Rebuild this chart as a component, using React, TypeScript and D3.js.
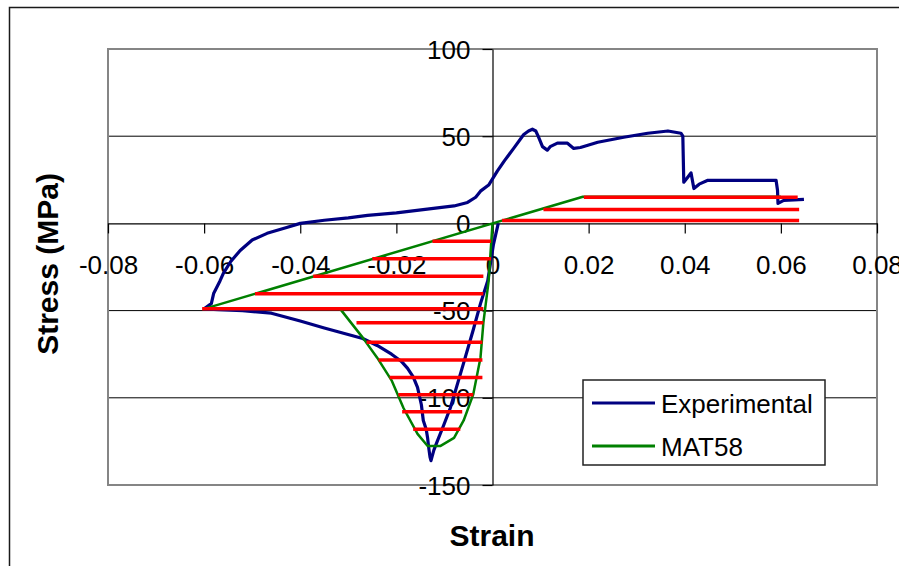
import React, { useEffect, useRef } from "react";
import * as d3 from "d3";

// axis ticks
const strainTicks = [-0.08, -0.06, -0.04, -0.02, 0, 0.02, 0.04, 0.06, 0.08];
const stressTicks = [-150, -100, -50, 0, 50, 100];

// Experimental curve
const expStrain = [
  0.0012, 0.0002, -0.001, -0.0025, -0.004, -0.006, -0.0075, -0.0088, -0.0102, -0.0115,
  -0.0122, -0.0128, -0.013, -0.0133, -0.0135, -0.0138, -0.0144, -0.0148, -0.0156, -0.0165,
  -0.0177, -0.019, -0.021, -0.024, -0.027, -0.031, -0.035, -0.04, -0.046, -0.052,
  -0.057, -0.06, -0.0585, -0.058, -0.0567, -0.056, -0.0545, -0.0525, -0.05, -0.0469,
  -0.043, -0.04, -0.035, -0.03, -0.026, -0.02, -0.0123, -0.008, -0.0052, -0.0035,
  -0.0025, -0.0008, 0.001, 0.0025, 0.0044, 0.0065, 0.0075, 0.0083, 0.009, 0.0095,
  0.0104, 0.0114, 0.012, 0.0135, 0.0156, 0.0169, 0.0183, 0.0219, 0.0273, 0.0323,
  0.0365, 0.0392, 0.0396, 0.0398, 0.0405, 0.0413, 0.0419, 0.043, 0.0448, 0.059,
  0.0593, 0.0594, 0.0606, 0.0648,
];
const expStress = [
  0, -12, -33, -46, -61, -80, -94, -106, -116, -125,
  -130, -136, -134, -128, -123, -118, -113, -104, -94, -88,
  -83, -79, -75, -70, -66, -63, -60, -56, -51.5, -50,
  -49.5, -49, -46, -40, -33, -28.7, -22, -15.5, -9.5, -5.7,
  -2.5, 0, 1.8, 3.2, 4.6, 6, 8.6, 10, 12, 15,
  18.5, 22, 30, 36, 43, 51, 53, 54, 53, 50,
  44, 42, 44, 46, 46, 43, 43.5, 46.5, 49.4, 51.7,
  53, 51.7, 50, 23.6, 26, 29, 20, 22.5, 24.7, 24.7,
  19, 11.5, 13.2, 13.8,
];

// MAT58 curve
const matStrain = [
  0.06, 0.0188, -0.06, -0.0317, -0.027, -0.024, -0.021, -0.0185, -0.0156, -0.0135,
  -0.0108, -0.008, -0.006, -0.004, -0.0025, -0.0019, -0.0008, 0,
];
const matStress = [
  15.3, 15.3, -49, -49, -65.5, -77, -90, -106, -120.7, -127.6,
  -127.6, -123, -113, -98, -77, -57, -33, 0,
];

// red hatch lines: level, start strain, end strain
const hatchStress = [15, 8, 1.7, -10.2, -20.3, -30.3, -40.4, -49, -57, -68.2, -78.3, -88.3, -98.3, -108, -118];
const hatchFrom = [0.019, 0.0106, 0.002, -0.0125, -0.025, -0.0373, -0.0494, -0.0604, -0.0283, -0.0262, -0.0237, -0.0214, -0.0196, -0.0188, -0.0165];
const hatchTo = [0.0635, 0.0638, 0.0638, -0.0003, -0.0003, -0.0019, -0.0019, -0.0019, -0.0019, -0.0021, -0.0021, -0.0021, -0.004, -0.0063, -0.0067];

const seriesNames = ["Experimental", "MAT58"];
const seriesColors = ["#000080", "#008000"];

export default function App() {
  const ref = useRef<SVGSVGElement>(null);

  useEffect(() => {
    const svg = d3.select(ref.current);
    svg.selectAll("*").remove();
    const W = 899, H = 566;
    const left = 108, right = 877, top = 49, bottom = 485;
    const font = "'Liberation Sans', Arial, sans-serif";

    const x = d3.scaleLinear().domain([-0.08, 0.08]).range([left, right]);
    const y = d3.scaleLinear().domain([-150, 100]).range([bottom, top]);

    svg.append("rect").attr("width", W).attr("height", H).attr("fill", "#fff");

    // outer chart frame (only top and left edges visible)
    svg.append("path")
      .attr("d", `M9.5,${H} V7.5 H${W}`)
      .attr("fill", "none").attr("stroke", "#1a1a1a").attr("stroke-width", 1.5);

    // gridlines
    svg.append("g")
      .selectAll("line")
      .data(stressTicks.filter(d => d !== 0 && d !== -150 && d !== 100))
      .enter().append("line")
      .attr("x1", left).attr("x2", right)
      .attr("y1", d => y(d)).attr("y2", d => y(d))
      .attr("stroke", "#000").attr("stroke-width", 1);

    // plot border
    svg.append("rect")
      .attr("x", left).attr("y", top)
      .attr("width", right - left).attr("height", bottom - top)
      .attr("fill", "none").attr("stroke", "#858585").attr("stroke-width", 2);

    // x axis through y = 0
    const gx = svg.append("g")
      .attr("transform", `translate(0,${y(0)})`)
      .call(d3.axisBottom(x).tickValues(strainTicks).tickSize(10).tickSizeOuter(0)
        .tickFormat(d => String(+(+d).toFixed(2))));
    gx.select(".domain").attr("stroke", "#000").attr("stroke-width", 1.2);
    gx.selectAll(".tick line").attr("stroke", "#000").attr("stroke-width", 1.2);
    gx.selectAll(".tick text")
      .attr("y", 32).attr("dy", "0.71em")
      .attr("fill", "#000")
      .style("font-family", font).style("font-size", "26px");

    // y axis through x = 0
    const gy = svg.append("g")
      .attr("transform", `translate(${x(0)},0)`)
      .call(d3.axisLeft(y).tickValues(stressTicks).tickSize(10).tickSizeOuter(0)
        .tickFormat(d => String(d)));
    gy.select(".domain").attr("stroke", "#000").attr("stroke-width", 1.2);
    gy.selectAll(".tick line").attr("stroke", "#000").attr("stroke-width", 1.2);
    gy.selectAll(".tick text")
      .attr("x", -22).attr("dy", "0.35em")
      .attr("fill", "#000")
      .style("font-family", font).style("font-size", "26px");

    const line = d3.line<[number, number]>().x(d => x(d[0])).y(d => y(d[1]));

    const expData = expStrain.map((s, i) => [s, expStress[i]] as [number, number]);
    const matData = matStrain.map((s, i) => [s, matStress[i]] as [number, number]);

    svg.append("path")
      .attr("d", line(expData))
      .attr("fill", "none").attr("stroke", seriesColors[0])
      .attr("stroke-width", 3.2).attr("stroke-linejoin", "round");

    svg.append("path")
      .attr("d", line(matData))
      .attr("fill", "none").attr("stroke", seriesColors[1])
      .attr("stroke-width", 2.5).attr("stroke-linejoin", "round");

    // red hatching
    svg.append("g")
      .selectAll("line")
      .data(hatchStress)
      .enter().append("line")
      .attr("x1", (d, i) => x(hatchFrom[i])).attr("x2", (d, i) => x(hatchTo[i]))
      .attr("y1", d => y(d)).attr("y2", d => y(d))
      .attr("stroke", "#ff0000").attr("stroke-width", 3.5);

    // legend
    const lg = svg.append("g");
    lg.append("rect")
      .attr("x", 583).attr("y", 380).attr("width", 242).attr("height", 85)
      .attr("fill", "#fff").attr("stroke", "#222").attr("stroke-width", 1.5);
    seriesNames.forEach((name, i) => {
      const ly = 403 + i * 43;
      lg.append("line")
        .attr("x1", 592).attr("x2", 655).attr("y1", ly).attr("y2", ly)
        .attr("stroke", seriesColors[i]).attr("stroke-width", 3);
      lg.append("text")
        .attr("x", 661).attr("y", ly + 9.5)
        .style("font-family", font).style("font-size", "26px")
        .attr("fill", "#000")
        .text(name);
    });

    // axis titles
    svg.append("text")
      .attr("x", 492).attr("y", 546)
      .attr("text-anchor", "middle")
      .style("font-family", font).style("font-size", "30px").style("font-weight", "bold")
      .text("Strain");

    svg.append("text")
      .attr("transform", "translate(58,264) rotate(-90)")
      .attr("text-anchor", "middle")
      .style("font-family", font).style("font-size", "30px").style("font-weight", "bold")
      .text("Stress (MPa)");
  }, []);

  return (
    <svg ref={ref} width={899} height={566}
      style={{ position: "absolute", left: 0, top: 0, display: "block" }} />
  );
}
